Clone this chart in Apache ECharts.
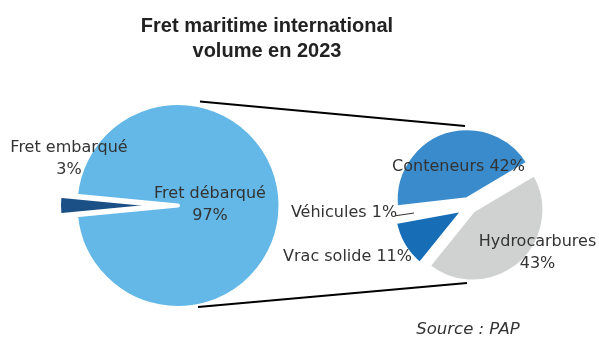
<!DOCTYPE html>
<html>
<head>
<meta charset="utf-8">
<script src="https://cdn.jsdelivr.net/npm/echarts@6/dist/echarts.min.js"></script>
<style>
  html, body { margin: 0; padding: 0; background: #fff; }
  #chart { width: 599px; height: 340px; }
</style>
</head>
<body>
<div id="chart"></div>
<script>
// International maritime freight, 2023 — share of total volume (%)
const mainNames = ['Fret embarqué', 'Fret débarqué'];
const mainValues = [3, 97];

// Unloaded freight broken down by cargo type (share of total volume, %)
const subNames = ['Hydrocarbures', 'Vrac solide', 'Véhicules', 'Conteneurs'];
const subValues = [43, 11, 1, 42];

// ---- styling / layout ----
const FONT = '"DejaVu Sans", Verdana, sans-serif';
const mainColors = ['#1a5086', '#63b8e7'];
const subColors = ['#d0d1d1', '#176db6', '#ffffff', '#3a8bcc'];
const mainExplode = [16.5, 0];
const subExplode = [5, 5, 0, 7];
const mainCenter = [178, 205.5], mainR = 102.5, mainBorder = 4;
const subCenter = [469.5, 206.3], subR = 72, subBorder = 5;
const mainStart = 185.4;   // loaded freight centred on the left
const subStart = 30.7;
const mainLabelPos = [[69, 159], [210, 204.5]];
const subLabelPos = [[537.5, 252.5], [347.5, 257], [344, 213], [458.5, 167]];
const mainLabelSep = ['\n', '\n'];
const subLabelSep = ['\n', ' ', ' ', ' '];

const rad = d => d * Math.PI / 180;

// One pie series per slice so that each slice can be pulled out on its own.
function slices(names, values, colors, explode, start, center, r, labelPos, sep, border) {
  const total = values.reduce((s, v) => s + v, 0);
  let a = start;
  const out = [];
  names.forEach((name, i) => {
    const span = values[i] / total * 360;
    const mid = a - span / 2;
    const off = explode[i];
    const c = [center[0] + off * Math.cos(rad(mid)), center[1] - off * Math.sin(rad(mid))];
    out.push({
      type: 'pie',
      center: c,
      radius: r,
      startAngle: a,
      clockwise: true,
      silent: true,
      animation: false,
      avoidLabelOverlap: false,
      labelLine: { show: false },
      label: {
        show: true,
        position: 'inside',
        formatter: p => p.name + sep[i] + p.value + '%',
        fontFamily: FONT,
        fontSize: 16,
        lineHeight: 22,
        color: '#333'
      },
      labelLayout: { x: labelPos[i][0], y: labelPos[i][1], align: 'center', verticalAlign: 'middle' },
      data: [
        { name: name, value: values[i],
          itemStyle: { color: colors[i], borderColor: '#fff', borderWidth: border } },
        { name: '', value: total - values[i],
          itemStyle: { color: 'rgba(0,0,0,0)', borderWidth: 0 }, label: { show: false } }
      ]
    });
    a -= span;
  });
  return out;
}

const series = [].concat(
  slices(mainNames, mainValues, mainColors, mainExplode, mainStart, mainCenter, mainR, mainLabelPos, mainLabelSep, mainBorder),
  slices(subNames, subValues, subColors, subExplode, subStart, subCenter, subR, subLabelPos, subLabelSep, subBorder)
);

// Leader line for the small "Véhicules" slice
const subTotal = subValues.reduce((s, v) => s + v, 0);
const vehIdx = subNames.indexOf('Véhicules');
const before = subValues.slice(0, vehIdx).reduce((s, v) => s + v, 0);
const vehMid = subStart - (before + subValues[vehIdx] / 2) / subTotal * 360;
const at = (rr) => [subCenter[0] + rr * Math.cos(rad(vehMid)), subCenter[1] - 1.5 - rr * Math.sin(rad(vehMid))];
const p1 = at(subR * 1.04), p2 = at(subR * 0.78);

// Connector lines between the two pies
const connectors = [
  [[mainCenter[0] + 22, mainCenter[1] - 104], [subCenter[0] - 4.5, subCenter[1] - 80.3]],
  [[mainCenter[0] + 20, mainCenter[1] + 101.5], [subCenter[0] - 2.5, subCenter[1] + 76.7]]
];

const chart = echarts.init(document.getElementById('chart'), null, { renderer: 'canvas' });
chart.setOption({
  backgroundColor: '#fff',
  animation: false,
  title: {
    text: 'Fret maritime international\nvolume en 2023',
    left: 262,
    top: 9,
    textAlign: 'center',
    textStyle: {
      fontFamily: '"Liberation Sans", Arial, sans-serif',
      fontSize: 20,
      fontWeight: 'bold',
      lineHeight: 25,
      color: '#222'
    }
  },
  graphic: [
    ...connectors.map(([a, b]) => ({
      type: 'line', z: 10, silent: true,
      shape: { x1: a[0], y1: a[1], x2: b[0], y2: b[1] },
      style: { stroke: '#000', lineWidth: 2 }
    })),
    {
      type: 'line', z: 10, silent: true,
      shape: { x1: p1[0], y1: p1[1], x2: p2[0], y2: p2[1] },
      style: { stroke: '#333', lineWidth: 1 }
    },
    {
      type: 'text', z: 10, silent: true,
      x: 468, y: 330,
      style: {
        text: 'Source : PAP',
        font: 'italic 16.5px ' + FONT,
        fill: '#333',
        align: 'center',
        verticalAlign: 'middle'
      }
    }
  ],
  series: series
});
</script>
</body>
</html>
